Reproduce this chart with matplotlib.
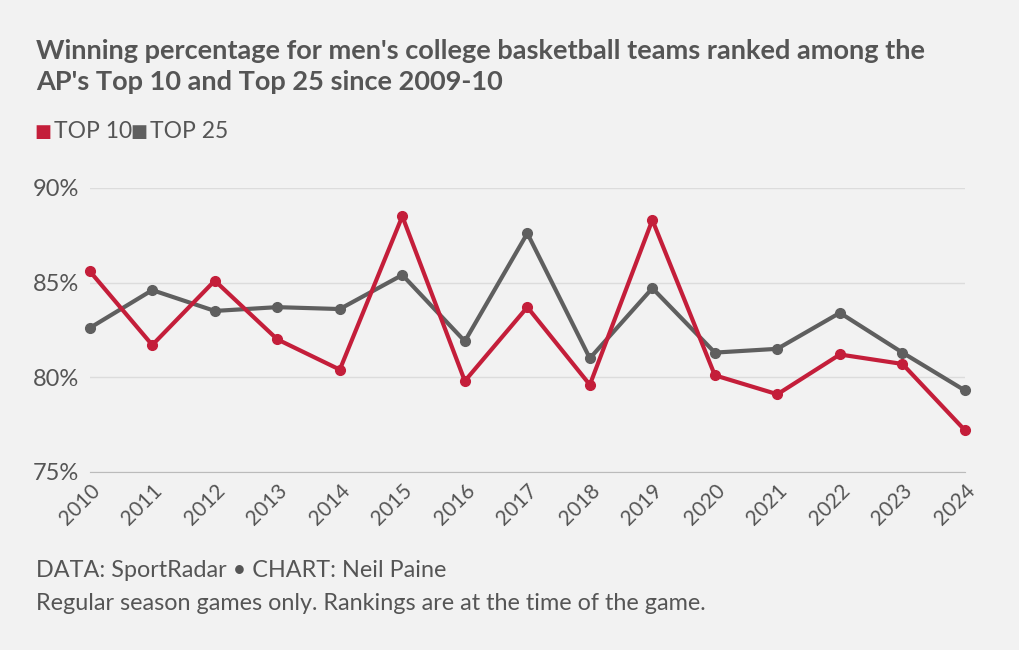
import matplotlib.pyplot as plt
from matplotlib.ticker import FuncFormatter

plt.rcParams['font.family'] = ['Lato', 'DejaVu Sans']

years = list(range(2010, 2025))
top10 = [85.6, 81.7, 85.1, 82.0, 80.4, 88.5, 79.8, 83.7, 79.6, 88.3, 80.1, 79.1, 81.2, 80.7, 77.2]
top25 = [82.6, 84.6, 83.5, 83.7, 83.6, 85.4, 81.9, 87.6, 81.0, 84.7, 81.3, 81.5, 83.4, 81.3, 79.3]

red = '#c41e3a'
gray = '#5f5f5f'
bg = '#f2f2f2'

fig = plt.figure(figsize=(10.2, 6.5), dpi=100, facecolor=bg)
ax = fig.add_axes([0.088, 0.274, 0.858, 0.437], facecolor=bg)

ax.plot(years, top25, color=gray, lw=3, marker='o', ms=7, zorder=3, clip_on=False)
ax.plot(years, top10, color=red, lw=3, marker='o', ms=7, zorder=4, clip_on=False)

ax.set_ylim(75, 90)
ax.set_xlim(2010, 2024)
ax.set_yticks([75, 80, 85, 90])
ax.yaxis.set_major_formatter(FuncFormatter(lambda v, p: f'{v:.0f}%'))
ax.set_xticks(years)
ax.set_xticklabels([str(y) for y in years], rotation=45, ha='right', rotation_mode='anchor')
ax.grid(axis='y', color='#dcdcdc', lw=1)
ax.tick_params(axis='y', length=0, labelsize=17, labelcolor='#555555', pad=8)
ax.tick_params(axis='x', length=0, labelsize=15, labelcolor='#555555', pad=6)
for s in ['top', 'right', 'left']:
    ax.spines[s].set_visible(False)
ax.spines['bottom'].set_color('#bbbbbb')

fig.text(0.035, 0.855, "Winning percentage for men's college basketball teams ranked among the\nAP's Top 10 and Top 25 since 2009-10",
         fontsize=19.5, fontweight='bold', color='#555555', va='bottom', linespacing=1.35)
fig.text(0.034, 0.797, '■', color=red, fontsize=13, va='center')
fig.text(0.053, 0.797, 'TOP 10', color='#555555', fontsize=16.5, va='center')
fig.text(0.128, 0.797, '■', color=gray, fontsize=13, va='center')
fig.text(0.147, 0.797, 'TOP 25', color='#555555', fontsize=16.5, va='center')

fig.text(0.035, 0.123, 'DATA: SportRadar • CHART: Neil Paine', fontsize=16.8, color='#555555', va='center')
fig.text(0.035, 0.072, 'Regular season games only. Rankings are at the time of the game.', fontsize=16.8, color='#555555', va='center')

fig.savefig('out.png', dpi=100, facecolor=bg)
